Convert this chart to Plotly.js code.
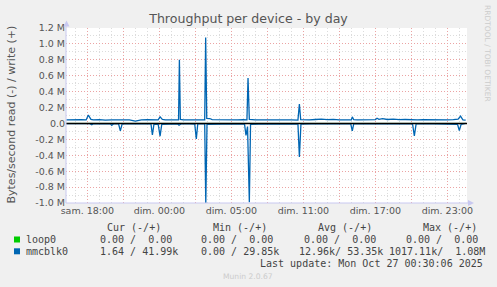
<!DOCTYPE html>
<html>
<head>
<meta charset="utf-8">
<script src="https://cdn.plot.ly/plotly-3.0.1.min.js"></script>
<style>
  html, body { margin: 0; padding: 0; background: #f0f0f0; }
  #chart { width: 497px; height: 287px; }
</style>
</head>
<body>
<div id="chart"></div>
<script>
// ---------------- DATA ----------------
// time in hours after "sam. 18:00" (Sat 25 Oct 2025, local time)
const xTickVals = [0, 3, 6, 9, 12, 15, 18, 21, 24, 27, 30];
const xTickText = ['sam. 18:00', '', 'dim. 00:00', '', 'dim. 05:00', '', 'dim. 11:00', '', 'dim. 17:00', '', 'dim. 23:00'];

const yTickVals = [-1.0e6, -0.8e6, -0.6e6, -0.4e6, -0.2e6, 0, 0.2e6, 0.4e6, 0.6e6, 0.8e6, 1.0e6, 1.2e6];
const yTickText = ['-1.0 M', '-0.8 M', '-0.6 M', '-0.4 M', '-0.2 M', '0.0', '0.2 M', '0.4 M', '0.6 M', '0.8 M', '1.0 M', '1.2 M'];

// loop0 (always zero)
const loop0Time  = [-1.75, 31.53];
const loop0Write = [0, 0];
const loop0Read  = [0, 0];

// mmcblk0 write (+), kB/s
const mmcWriteTime = [-1.75, -1.5, -1.0, -0.5, -0.1, 0.08, 0.3, 0.5, 1.0, 1.5, 2.0, 2.5, 3.0, 3.5, 4.0, 4.5, 5.0, 5.5, 5.9, 6.06, 6.25, 6.5, 7.0, 7.5, 7.6, 7.67, 7.75, 8.0, 8.5, 9.0, 9.5, 9.78, 9.86, 9.95, 10.2, 10.4, 11.0, 11.5, 12.0, 12.5, 13.0, 13.3, 13.39, 13.5, 14.0, 14.5, 15.0, 15.5, 16.0, 16.5, 17.0, 17.55, 17.67, 17.78, 18.0, 18.5, 19.0, 19.5, 20.0, 20.5, 21.0, 21.5, 22.0, 22.08, 22.2, 22.5, 23.0, 23.5, 24.0, 24.14, 24.3, 24.6, 25.0, 25.5, 26.0, 26.5, 27.0, 27.5, 28.0, 28.5, 29.0, 29.5, 30.0, 30.5, 30.9, 31.1, 31.3, 31.53];
const mmcWriteK    = [44, 46, 42, 47, 44, 105, 52, 45, 48, 41, 46, 43, 47, 44, 30, 46, 48, 42, 46, 82, 50, 45, 44, 46, 45, 800, 52, 46, 43, 47, 44, 46, 1080, 64, 62, 48, 45, 42, 46, 44, 47, 45, 570, 50, 44, 46, 42, 45, 48, 44, 46, 43, 244, 47, 44, 46, 50, 54, 48, 52, 46, 47, 45, 83, 47, 45, 48, 50, 48, 65, 52, 60, 50, 54, 47, 50, 46, 44, 48, 46, 44, 47, 45, 48, 55, 92, 46, 42];

// mmcblk0 read (-), kB/s
const mmcReadTime = [-1.75, -1.0, -0.5, 0.2, 0.37, 0.5, 1.0, 1.5, 1.9, 2.03, 2.2, 2.6, 2.75, 2.9, 3.5, 4.0, 4.5, 5.0, 5.3, 5.42, 5.55, 5.9, 6.06, 6.2, 6.6, 7.0, 7.5, 7.64, 7.8, 8.5, 8.95, 9.08, 9.2, 9.78, 9.87, 9.97, 10.5, 11.0, 11.5, 12.0, 12.5, 13.1, 13.22, 13.35, 13.5, 13.6, 14.0, 14.5, 15.0, 15.5, 16.0, 16.5, 17.0, 17.55, 17.67, 17.8, 18.5, 19.0, 19.5, 20.0, 20.5, 21.0, 21.5, 21.95, 22.08, 22.2, 22.8, 23.5, 24.0, 24.5, 25.0, 25.5, 26.0, 26.5, 27.1, 27.25, 27.4, 28.0, 28.5, 29.0, 29.5, 30.0, 30.5, 30.85, 31.0, 31.15, 31.53];
const mmcReadK    = [3, 2, 4, 2, 15, 3, 6, 4, 3, 25, 3, 4, 93, 5, 2, 6, 3, 5, 4, 145, 8, 10, 160, 12, 10, 9, 4, 22, 6, 4, 8, 195, 6, 5, 1017, 12, 10, 8, 4, 3, 5, 8, 150, 40, 990, 12, 9, 10, 4, 8, 10, 9, 8, 5, 420, 8, 4, 6, 3, 5, 0, 4, 3, 5, 93, 6, 3, 5, 3, 6, 4, 3, 5, 2, 4, 157, 6, 3, 5, 4, 6, 3, 8, 10, 90, 12, 0.00164];

// legend table
const legendNames = ['loop0', 'mmcblk0'];
const legendColors = ['#00cc00', '#0066b3'];
const legendHeaders = ['Cur (-/+)', 'Min (-/+)', 'Avg (-/+)', 'Max (-/+)'];
const curText = ['0.00 /  0.00', '1.64 / 41.99k'];
const minText = ['0.00 /  0.00', '0.00 / 29.85k'];
const avgText = ['0.00 /  0.00', '12.96k/ 53.35k'];
const maxText = ['0.00 /  0.00', '1017.11k/  1.08M'];
const lastUpdate = 'Last update: Mon Oct 27 00:30:06 2025';

// ---------------- LAYOUT HELPERS ----------------
const L = 66, R = 467, T = 28, B = 203;
const px = x => (x - L) / (R - L);
const py = y => (B - y) / (B - T);
const nb = s => s.replace(/ /g, '\u00a0');

const toBytes = arr => arr.map(v => v * 1000);
const neg = arr => arr.map(v => -v * 1000);

const traces = [
  { x: loop0Time, y: loop0Write, mode: 'lines', line: { color: legendColors[0], width: 0.6 }, hoverinfo: 'skip' },
  { x: loop0Time, y: loop0Read.map(v => -v), mode: 'lines', line: { color: legendColors[0], width: 0.6 }, hoverinfo: 'skip' },
  { x: mmcReadTime, y: neg(mmcReadK), mode: 'lines', line: { color: legendColors[1], width: 1.3 }, hoverinfo: 'skip' },
  { x: mmcWriteTime, y: toBytes(mmcWriteK), mode: 'lines', line: { color: legendColors[1], width: 1.3 }, hoverinfo: 'skip' }
];

const monoFont = { family: 'DejaVu Sans Mono', size: 10, color: '#444' };
const annotations = [];
function ann(text, x, y, opts) {
  annotations.push(Object.assign({
    text: nb(text), xref: 'paper', yref: 'paper', x: px(x), y: py(y),
    xanchor: 'left', yanchor: 'middle', showarrow: false, borderpad: 0, borderwidth: 0,
    font: monoFont
  }, opts || {}));
}
// headers
const headerX = [107, 213, 318, 423];
legendHeaders.forEach((h, i) => ann(h, headerX[i], 227.6));
const rowY = [239.4, 251.2];
const colX = [[99.7, 201, 304, 406], [99.7, 201, 298.7, 388.7]];
legendNames.forEach((n, i) => {
  ann(n, 26, rowY[i]);
  ann(curText[i], colX[i][0], rowY[i]);
  ann(minText[i], colX[i][1], rowY[i]);
  ann(avgText[i], colX[i][2], rowY[i]);
  ann(maxText[i], colX[i][3], rowY[i]);
});
ann(lastUpdate, 483, 263.5, { xanchor: 'right' });
ann('Munin 2.0.67', 248, 276, { xanchor: 'center', font: { family: 'DejaVu Sans', size: 7.6, color: '#cccccc' } });
ann('Bytes/second read (-) / write (+)', 10.5, 115, { xanchor: 'center', textangle: -90, font: { family: 'DejaVu Sans', size: 11, color: '#555' } });
ann('RRDTOOL / TOBI OETIKER', 488, 53, { xanchor: 'center', textangle: 90, font: { family: 'DejaVu Sans', size: 7.5, color: '#cccccc' } });

const shapes = [
  // legend colour boxes
  { type: 'rect', xref: 'paper', yref: 'paper', x0: px(14), x1: px(20), y0: py(242.5), y1: py(236.5), fillcolor: legendColors[0], line: { width: 0 } },
  { type: 'rect', xref: 'paper', yref: 'paper', x0: px(14), x1: px(20), y0: py(254.3), y1: py(248.3), fillcolor: legendColors[1], line: { width: 0 } },
  // zero line
  { type: 'line', xref: 'paper', yref: 'y', x0: 0, x1: 1, y0: 0, y1: 0, line: { color: '#000', width: 1.4 }, layer: 'above' },
  // axis arrows
  { type: 'path', xref: 'paper', yref: 'paper', path: `M ${px(66.5)} ${py(20.5)} L ${px(63.5)} ${py(26.5)} L ${px(69.5)} ${py(26.5)} Z`, fillcolor: '#c8c8f0', line: { width: 0 }, layer: 'above' },
  { type: 'path', xref: 'paper', yref: 'paper', path: `M ${px(474)} ${py(203)} L ${px(468)} ${py(200)} L ${px(468)} ${py(206)} Z`, fillcolor: '#c8c8f0', line: { width: 0 }, layer: 'above' },
  { type: 'line', xref: 'paper', yref: 'paper', x0: px(66), x1: px(66), y0: py(203), y1: py(25), line: { color: '#c8c8f0', width: 1 }, layer: 'above' },
  { type: 'line', xref: 'paper', yref: 'paper', x0: px(66), x1: px(469), y0: py(203), y1: py(203), line: { color: '#c8c8f0', width: 1 }, layer: 'above' }
];

const layout = {
  width: 497, height: 287,
  margin: { l: L, r: 497 - R, t: T, b: 287 - B },
  paper_bgcolor: '#f0f0f0', plot_bgcolor: '#ffffff',
  showlegend: false,
  title: { text: 'Throughput per device - by day', x: px(248.5), xref: 'paper', xanchor: 'center', y: 1 - 19 / 287, yref: 'container', yanchor: 'middle',
           font: { family: 'DejaVu Sans', size: 12.6, color: '#555' } },
  xaxis: {
    range: [-1.78, 31.64], tickmode: 'array', tickvals: xTickVals, ticktext: xTickText,
    showgrid: true, gridcolor: '#eba3a3', griddash: '1px,2px', gridwidth: 1,
    minor: { tickmode: 'linear', tick0: 0, dtick: 1, showgrid: true, gridcolor: '#dcdcdc', griddash: '1px,2px', gridwidth: 1 },
    zeroline: false, showline: false, ticks: '',
    tickfont: { family: 'DejaVu Sans', size: 9.5, color: '#555' }, fixedrange: true
  },
  yaxis: {
    range: [-1.0e6, 1.2e6], tickmode: 'array', tickvals: yTickVals, ticktext: yTickText,
    showgrid: true, gridcolor: '#eba3a3', griddash: '1px,2px', gridwidth: 1,
    minor: { tickmode: 'linear', tick0: 0, dtick: 1e5, showgrid: true, gridcolor: '#dcdcdc', griddash: '1px,2px', gridwidth: 1 },
    zeroline: false, showline: false, ticks: '',
    tickfont: { family: 'DejaVu Sans', size: 9.5, color: '#555' }, fixedrange: true
  },
  annotations: annotations,
  shapes: shapes
};

Plotly.newPlot('chart', traces, layout, { staticPlot: true, displayModeBar: false });
</script>
</body>
</html>
